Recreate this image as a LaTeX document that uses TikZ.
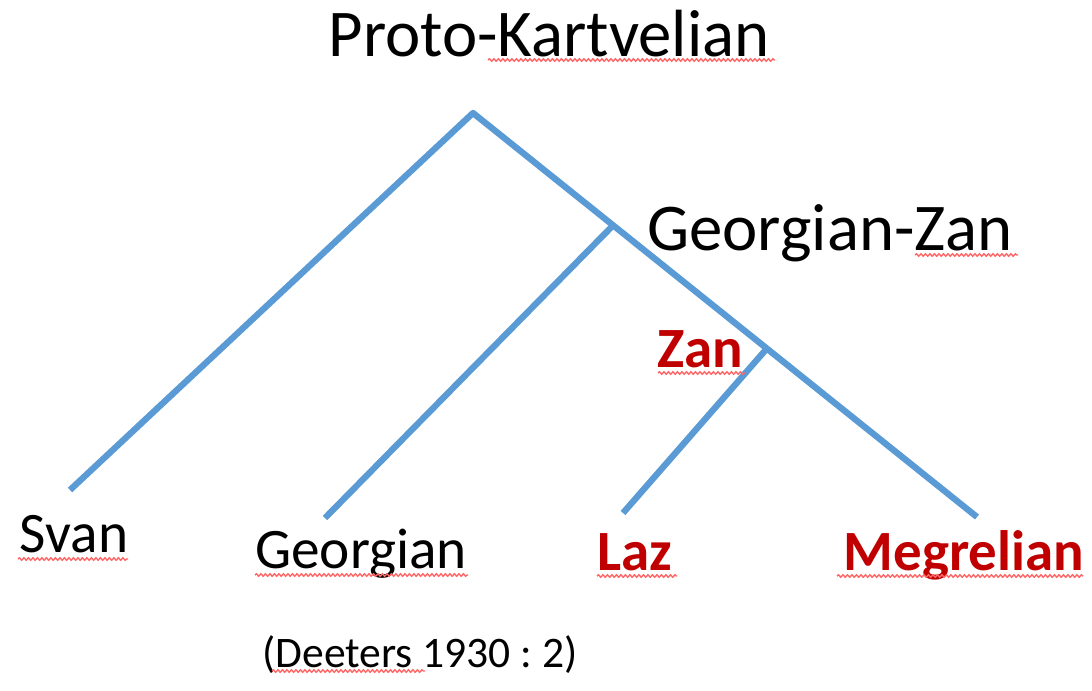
\documentclass[tikz,border=0pt]{standalone}
\usepackage{fontspec}
\setmainfont{Carlito}
\usetikzlibrary{calc,decorations.pathmorphing}
\definecolor{branchblue}{HTML}{5B9BD5}
\definecolor{zanred}{HTML}{C00000}
\frenchspacing
\begin{document}
\begin{tikzpicture}[
    branch/.style={draw=branchblue, line width=1.8pt, line join=round},
    lang/.style={inner sep=0pt, anchor=base, font=\fontsize{16.3}{19}\selectfont},
    biglang/.style={lang, font=\fontsize{19}{22}\selectfont},
    zanlang/.style={lang, text=zanred, font=\fontsize{16.2}{19}\selectfont\bfseries},
    cite/.style={lang, font=\fontsize{12.4}{15}\selectfont},
    spell/.style={draw=red!60, line width=0.4pt,
                  decorate, decoration={snake, amplitude=0.012cm, segment length=0.045cm}}
]
\useasboundingbox (0,0) rectangle (10.92,-6.90);

% branch points and leaf ends
\coordinate (root)   at (4.73,-1.13);
\coordinate (svanE)  at (0.70,-4.90);
\coordinate (megE)   at (9.77,-5.17);
\coordinate (geoE)   at (3.25,-5.18);
\coordinate (lazE)   at (6.23,-5.13);
\coordinate (gz)     at ($(root)!0.278!(megE)$);
\coordinate (zanP)   at ($(root)!0.583!(megE)$);

\draw[branch] (svanE) -- (root) -- (megE);
\draw[branch] (gz) -- (geoE);
\draw[branch] (zanP) -- (lazE);

% labels
\node[biglang] (proto) at (5.49,-0.56) {Proto-Kartvelian};
\node[biglang] (geozan) at (8.30,-2.50) {Georgian-Zan};
\node[zanlang] (zan)  at (7.00,-3.67) {Zan};
\node[lang]    (svan) at (0.74,-5.52) {Svan};
\node[lang]    (geo)  at (3.61,-5.68) {Georgian};
\node[zanlang] (laz)  at (6.35,-5.70) {Laz};
\node[zanlang] (meg)  at (9.64,-5.70) {Megrelian};
\node[cite]    (src)  at (4.20,-6.67) {(Deeters 1930 : 2)};

% spell-check underlines
\foreach \xa/\xb/\y in {4.88/7.75/0.60, 9.15/10.18/2.55, 6.58/7.45/3.73,
    0.18/1.28/5.59, 2.55/4.68/5.75, 5.97/6.77/5.76, 8.37/10.83/5.76, 2.72/4.25/6.71}
  \draw[spell] (\xa,-\y) -- (\xb,-\y);

\end{tikzpicture}
\end{document}
